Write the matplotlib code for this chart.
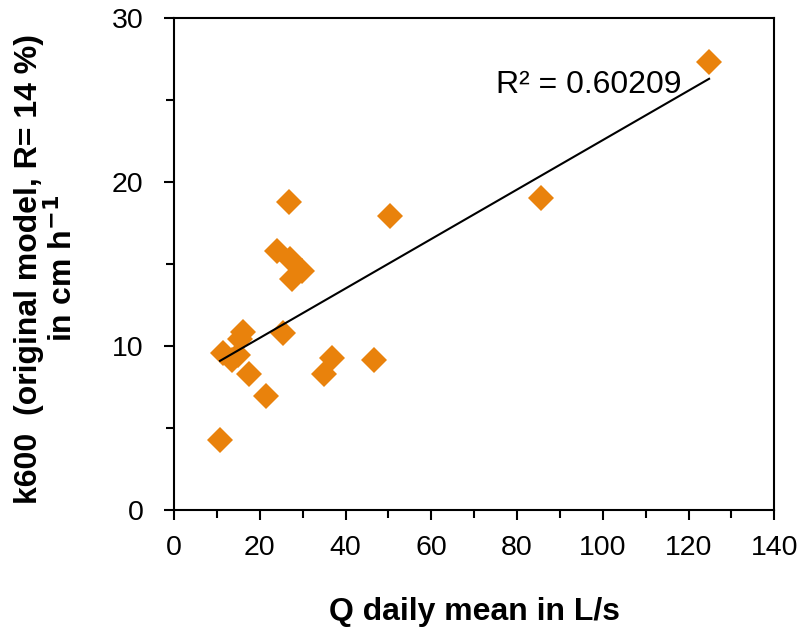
import numpy as np
import matplotlib.pyplot as plt
from matplotlib.ticker import MultipleLocator

# daily mean discharge (L/s) and k600 (cm/h)
q_daily = [10.7, 11.4, 13.5, 14.9, 15.4, 16.1, 17.5, 21.5, 24.0, 25.4,
           26.8, 27.1, 27.5, 29.9, 35.0, 36.9, 46.7, 50.4, 85.6, 124.8]
k600 = [4.3, 9.6, 9.15, 9.45, 10.4, 10.85, 8.3, 6.95, 15.8, 10.8,
        18.8, 15.3, 14.1, 14.6, 8.3, 9.27, 9.15, 17.9, 19.0, 27.3]
r2_label = 'R² = 0.60209'

plt.rcParams['font.family'] = ['Liberation Sans', 'DejaVu Sans']

fig = plt.figure(figsize=(7.99, 6.32), dpi=100)
ax = fig.add_axes([0.218, 0.193, 0.751, 0.7785])

ax.plot(q_daily, k600, linestyle='none', marker='D', markersize=13.5,
        markeredgewidth=0, color='#E9820C', zorder=3)

# linear trendline, drawn over the markers
slope, intercept = np.polyfit(q_daily, k600, 1)
xs = np.array([min(q_daily), max(q_daily)])
ax.plot(xs, slope * xs + intercept, color='black', linewidth=1.5, zorder=4)
ax.text(75, 25.9, r2_label, fontsize=23, va='center', ha='left')

ax.set_xlim(0, 140)
ax.set_ylim(0, 30)
ax.xaxis.set_major_locator(MultipleLocator(20))
ax.xaxis.set_minor_locator(MultipleLocator(10))
ax.yaxis.set_major_locator(MultipleLocator(10))
ax.yaxis.set_minor_locator(MultipleLocator(5))
ax.tick_params(which='both', direction='out', width=1.5, labelsize=20.5)
ax.tick_params(which='major', length=7)
ax.tick_params(which='minor', length=6)
ax.tick_params(axis='x', pad=11)
ax.tick_params(axis='y', pad=15)
for s in ax.spines.values():
    s.set_linewidth(1.5)

ax.set_xlabel('Q daily mean in L/s', fontsize=23, fontweight='bold')
ax.xaxis.set_label_coords(0.5, -0.176)
ax.set_ylabel('k600  (original model, R= 14 %)\nin cm h$^{\\mathbf{-1}}$',
              fontsize=23, fontweight='bold', linespacing=1.1)
ax.yaxis.set_label_coords(-0.158, 0.49)

fig.savefig('out.png', dpi=100)
